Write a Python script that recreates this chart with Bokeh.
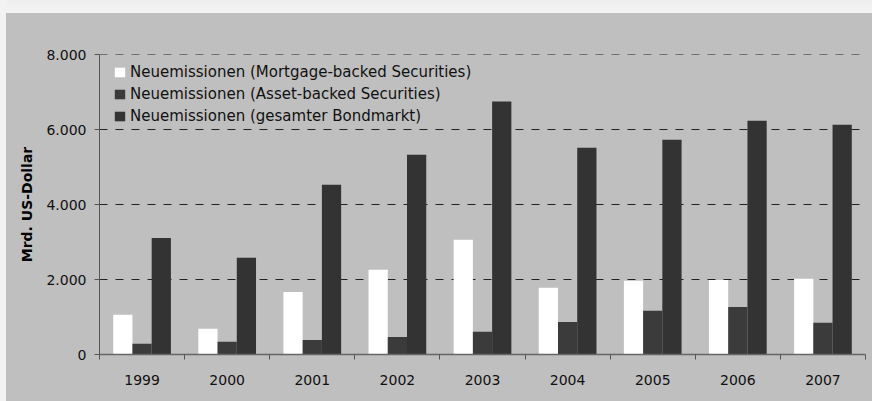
import numpy as np
from bokeh.plotting import figure
from bokeh.models import (ColumnDataSource, Range1d, FixedTicker, Legend, LegendItem)
from bokeh.transform import dodge
from bokeh.embed import file_html
from bokeh.resources import INLINE

years = ["1999", "2000", "2001", "2002", "2003", "2004", "2005", "2006", "2007"]
mbs = [1060, 690, 1670, 2260, 3060, 1780, 1970, 1990, 2020]
abs_ = [285, 340, 390, 470, 605, 870, 1170, 1270, 850]
total = [3110, 2580, 4530, 5330, 6750, 5520, 5730, 6240, 6130]
series_labels = ["Neuemissionen (Mortgage-backed Securities)",
                 "Neuemissionen (Asset-backed Securities)",
                 "Neuemissionen (gesamter Bondmarkt)"]
y_ticks = [0, 2000, 4000, 6000, 8000]
y_tick_labels = ["0", "2.000", "4.000", "6.000", "8.000"]
y_label = "Mrd. US-Dollar"

FONT = "DejaVu Sans"
BG = "#bfbfbf"

xc = np.arange(len(years)) + 0.5
src = ColumnDataSource(dict(x=xc, mbs=mbs, abs_=abs_, total=total))

p = figure(width=872, height=401, output_backend="svg", toolbar_location=None,
           x_range=Range1d(0, len(years)), y_range=Range1d(0, 8005),
           min_border_left=99, min_border_right=7, min_border_top=54, min_border_bottom=47)
p.background_fill_color = BG
p.border_fill_alpha = 0
p.outline_line_color = None
p.styles = {"background": "linear-gradient(to right, #f2f2f2 0px, #f2f2f2 6px, transparent 6px), "
                          "linear-gradient(to bottom, #eeeeee 0px, #f4f4f4 13px, #bfbfbf 13px, #bfbfbf 100%)"}

bw = 0.226
r1 = p.vbar(x=dodge("x", -bw, range=p.x_range), top="mbs", width=bw, source=src,
            fill_color="#ffffff", line_color=None)
r2 = p.vbar(x=dodge("x", 0, range=p.x_range), top="abs_", width=bw, source=src,
            fill_color="#3b3b3b", line_color=None)
r3 = p.vbar(x=dodge("x", bw, range=p.x_range), top="total", width=bw, source=src,
            fill_color="#333333", line_color=None)

# x axis
p.xaxis.ticker = FixedTicker(ticks=list(xc), minor_ticks=list(range(len(years) + 1)))
p.xaxis.major_label_overrides = {float(x): y for x, y in zip(xc, years)}
p.xaxis.major_tick_out = 0
p.xaxis.major_tick_in = 0
p.xaxis.minor_tick_out = 5
p.xaxis.minor_tick_in = 0
p.xaxis.minor_tick_line_color = "#555555"
p.xaxis.axis_line_color = "#666666"
p.xaxis.axis_line_width = 1.5
p.xaxis.major_label_standoff = 15
p.xaxis.major_label_text_font = FONT
p.xaxis.major_label_text_font_size = "14px"
p.xaxis.major_label_text_color = "#111111"
p.xgrid.visible = False

# y axis
p.yaxis.ticker = FixedTicker(ticks=y_ticks)
p.yaxis.major_label_overrides = {t: l for t, l in zip(y_ticks, y_tick_labels)}
p.yaxis.major_tick_out = 5
p.yaxis.major_tick_in = 0
p.yaxis.minor_tick_line_color = None
p.yaxis.major_tick_line_color = "#555555"
p.yaxis.axis_line_color = "#555555"
p.yaxis.major_label_standoff = 8
p.yaxis.major_label_text_font = FONT
p.yaxis.major_label_text_font_size = "14px"
p.yaxis.major_label_text_color = "#111111"
p.yaxis.axis_label = y_label
p.yaxis.axis_label_text_font = FONT
p.yaxis.axis_label_text_font_size = "14px"
p.yaxis.axis_label_text_font_style = "bold"
p.yaxis.axis_label_text_color = "#000000"
p.yaxis.axis_label_standoff = 8
p.ygrid.ticker = FixedTicker(ticks=y_ticks[1:])
p.ygrid.grid_line_color = "#222222"
p.ygrid.grid_line_dash = "8 8"
p.ygrid.grid_line_width = 1

legend = Legend(items=[LegendItem(label=series_labels[0], renderers=[r1]),
                       LegendItem(label=series_labels[1], renderers=[r2]),
                       LegendItem(label=series_labels[2], renderers=[r3])],
                location=(14, 229))
legend.background_fill_alpha = 0
legend.border_line_color = None
legend.padding = 0
legend.margin = 0
legend.spacing = 4
legend.glyph_width = 13
legend.glyph_height = 12
legend.label_height = 18
legend.label_standoff = 4
legend.label_text_font = FONT
legend.label_text_font_size = "15px"
legend.label_text_color = "#111111"
p.add_layout(legend)

open("out.html", "w").write(file_html(p, INLINE))
